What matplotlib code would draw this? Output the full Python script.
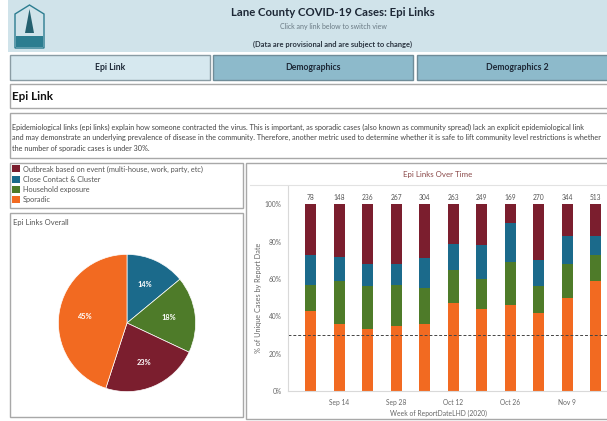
import numpy as np
import matplotlib
matplotlib.use("Agg")
import matplotlib.pyplot as plt
from matplotlib.patches import Rectangle, Polygon

plt.rcParams['font.family'] = ['Lato', 'DejaVu Sans']

# ---- data ----
weeks = ["Sep 7", "Sep 14", "Sep 21", "Sep 28", "Oct 5", "Oct 12",
         "Oct 19", "Oct 26", "Nov 2", "Nov 9", "Nov 16"]
case_counts = [78, 148, 236, 267, 304, 263, 249, 169, 270, 344, 513]
# % of unique cases per week, by epi link
sporadic = [43, 36, 33, 35, 36, 47, 44, 46, 42, 50, 59]
household = [14, 23, 23, 22, 19, 18, 16, 23, 14, 18, 14]
close_contact = [16, 13, 12, 11, 16, 14, 18, 21, 14, 15, 10]
outbreak = [27, 28, 32, 32, 29, 21, 22, 10, 30, 17, 17]

pie_labels = ["Close Contact & Cluster", "Household exposure",
              "Outbreak based on event (multi-house, work, party, etc)", "Sporadic"]
pie_values = [14, 18, 23, 45]

legend_labels = ["Outbreak based on event (multi-house, work, party, etc)",
                 "Close Contact & Cluster", "Household exposure", "Sporadic"]

col_outbreak = "#7b1e2e"
col_close = "#1b6a8b"
col_house = "#4e7b29"
col_spor = "#f26a21"

W, H = 607, 421
fig = plt.figure(figsize=(W / 100, H / 100), dpi=100)
fig.patch.set_facecolor("white")


def fx(x):
    return x / W


def fy(y):
    return 1 - y / H


def box(x0, y0, x1, y1, fc="white", ec="#a8a8a8", lw=1.0):
    fig.add_artist(Rectangle((fx(x0), fy(y1)), (x1 - x0) / W, (y1 - y0) / H,
                             transform=fig.transFigure, fc=fc, ec=ec, lw=lw, zorder=-5))


def txt(x, y, s, **kw):
    kw.setdefault("va", "center")
    return fig.text(fx(x), fy(y), s, **kw)


# header band
box(8, 0, 640, 52, fc="#d0e3ea", ec="none")
txt(333, 13, "Lane County COVID-19 Cases: Epi Links", ha="center",
    fontsize=8.2, fontweight="bold", color="#1d2836")
txt(333, 26, "Click any link below to switch view", ha="center",
    fontsize=5.0, color="#6a7a84")
txt(333, 44, "(Data are provisional and are subject to change)", ha="center",
    fontsize=5.4, fontweight="bold", color="#2a3440")

# logo
logo_c = "#2c7d90"
fig.add_artist(Polygon([(fx(15), fy(48)), (fx(15), fy(14)), (fx(29.5), fy(5)),
                        (fx(44), fy(14)), (fx(44), fy(48))], closed=True,
                       transform=fig.transFigure, fc="none", ec=logo_c, lw=1.0))
box(16, 36, 43, 47, fc=logo_c, ec="none")
fig.add_artist(Polygon([(fx(29.5), fy(9)), (fx(25), fy(33)), (fx(34), fy(33))],
                       closed=True, transform=fig.transFigure, fc="#24606f", ec="none"))

# tabs
box(10, 55, 210, 80, fc="#d6e8ef", ec="#8a9ca4")
box(213, 55, 413, 80, fc="#8dbacb", ec="#6f8c98")
box(417, 55, 640, 80, fc="#8dbacb", ec="#6f8c98")
txt(110, 67.5, "Epi Link", ha="center", fontsize=6.2, fontweight="bold", color="#1d2836")
txt(313, 67.5, "Demographics", ha="center", fontsize=6.2, fontweight="bold", color="#1d2836")
txt(517, 67.5, "Demographics 2", ha="center", fontsize=6.2, fontweight="bold", color="#1d2836")

# section header
box(10, 84, 640, 108)
txt(12, 96.5, "Epi Link", ha="left", fontsize=8.4, fontweight="bold", color="#111111")

# description (second line runs off the right edge, as in the dashboard)
box(10, 113, 640, 158)
para = ("Epidemiological links (epi links) explain how someone contracted the virus. This is important, "
        "as sporadic cases (also known as community spread) lack an explicit epidemiological link\n"
        "and may demonstrate an underlying prevalence of disease in the community. Therefore, another "
        "metric used to determine whether it is safe to lift community level restrictions is whether\n"
        "the number of sporadic cases is under 30%.")
for i, line in enumerate(para.split("\n")):
    txt(12, 127 + i * 10.5, line, ha="left", fontsize=5.25, color="#444444")

# legend panel
box(10, 163, 243, 208)
leg_cols = [col_outbreak, col_close, col_house, col_spor]
for i, (lab, c) in enumerate(zip(legend_labels, leg_cols)):
    yc = 169 + i * 10.3
    box(12, yc - 3.5, 20, yc + 3.5, fc=c, ec="none")
    txt(23, yc, lab, ha="left", fontsize=5.3, color="#555555")

# pie panel
box(10, 213, 243, 417)
txt(13, 223, "Epi Links Overall", ha="left", fontsize=5.5, color="#555555")

pie_ax = fig.add_axes([fx(57), fy(393), 140 / W, 140 / H])
pie_ax.set_aspect("equal")
pie_ax.pie(pie_values, colors=[col_close, col_house, col_outbreak, col_spor],
           startangle=90, counterclock=False, radius=1,
           autopct="%d%%", pctdistance=0.62,
           wedgeprops=dict(edgecolor="white", linewidth=0.5),
           textprops=dict(color="white", fontsize=5.3, fontweight="bold"))
pie_ax.set_xlim(-1.02, 1.02)
pie_ax.set_ylim(-1.02, 1.02)

# bar panel
box(246, 163, 640, 419)
txt(438, 174, "Epi Links Over Time", ha="center", fontsize=5.7, color="#8a4848")
fig.add_artist(plt.Line2D([fx(250), fx(640)], [fy(185), fy(185)],
                          transform=fig.transFigure, color="#e2e2e2", lw=0.8, zorder=-4))

x0_px, step_px = 310.7, 28.5
left_px, right_px = 288, 640
y0_px, y100_px = 391, 204.3
ytop = (y0_px - 186) / (y0_px - y100_px)
ax = fig.add_axes([fx(left_px), fy(y0_px), (right_px - left_px) / W, (y0_px - 186) / H])

xs = np.arange(len(weeks))
bw = 11 / step_px
bottom = np.zeros(len(weeks))
for vals, c in [(sporadic, col_spor), (household, col_house),
                (close_contact, col_close), (outbreak, col_outbreak)]:
    v = np.array(vals) / 100.0
    ax.bar(xs, v, bw, bottom=bottom, color=c, linewidth=0)
    bottom += v

for x, n, top in zip(xs, case_counts, bottom):
    ax.text(x, top + 0.035, str(n), ha="center", va="center", fontsize=4.8, color="#555555")

ax.axhline(0.30, color="#444444", lw=0.7, ls=(0, (3, 2)))

ax.set_xlim((left_px - x0_px) / step_px, (right_px - x0_px) / step_px)
ax.set_ylim(0, ytop)
ax.set_yticks([0, 0.2, 0.4, 0.6, 0.8, 1.0])
ax.set_yticklabels(["0%", "20%", "40%", "60%", "80%", "100%"])
ax.set_xticks(xs[1::2])
ax.set_xticklabels([weeks[i] for i in xs[1::2]])
ax.tick_params(axis="both", length=0, labelsize=4.8, labelcolor="#666666")
ax.tick_params(axis="x", pad=5.5)
ax.tick_params(axis="y", pad=4.5)
for s in ["top", "right"]:
    ax.spines[s].set_visible(False)
for s in ["left", "bottom"]:
    ax.spines[s].set_color("#d9d9d9")
    ax.spines[s].set_linewidth(0.8)
ax.set_facecolor("none")

txt(259, 298, "% of Unique Cases by Report Date", ha="center", rotation=90,
    fontsize=5.2, color="#666666")
txt(438, 413, "Week of ReportDateLHD (2020)", ha="center", fontsize=4.9, color="#666666")

fig.savefig("out.png", dpi=100)
